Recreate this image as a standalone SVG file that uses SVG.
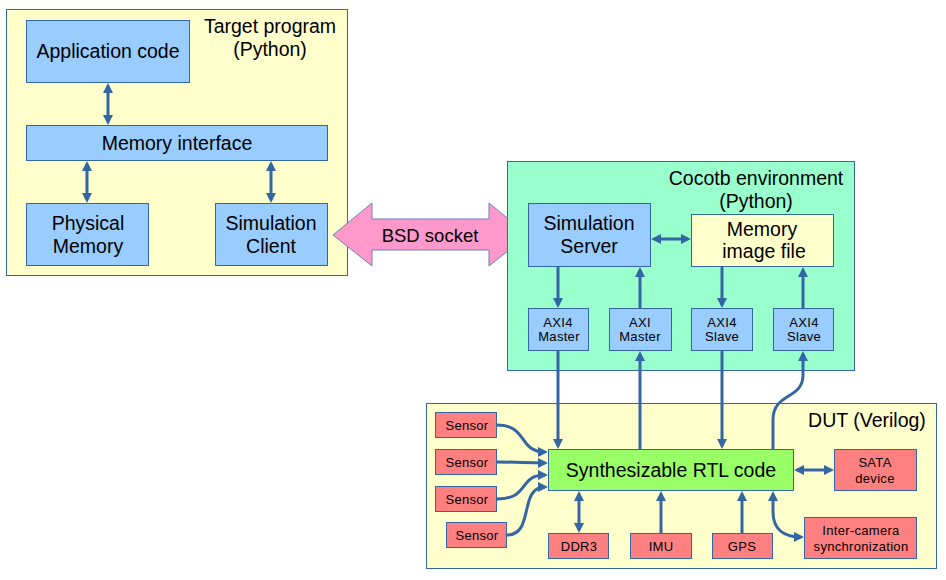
<svg xmlns="http://www.w3.org/2000/svg" width="946" height="580" viewBox="0 0 946 580">
<defs>
<style>
text{font-family:"Liberation Sans",Arial,sans-serif;fill:#000;text-anchor:middle}
.big{font-size:19.5px}
.sm{font-size:13px;letter-spacing:0.3px}
.cont{stroke:#3465a4;stroke-width:1}
.blue{fill:#99ccff;stroke:#3465a4;stroke-width:1}
.red{fill:#ff8080;stroke:#3465a4;stroke-width:1}
.con{fill:none;stroke:#3465a4;stroke-width:3}
</style>
<marker id="ah" viewBox="0 0 10 10" refX="7" refY="5" markerWidth="10" markerHeight="10" markerUnits="userSpaceOnUse" orient="auto-start-reverse"><path d="M0,0 L10,5 L0,10 z" fill="#3465a4"/></marker>
</defs>
<rect width="946" height="580" fill="#fff"/>

<g id="target-program">
<rect class="cont" x="6.5" y="9.5" width="341" height="266" fill="#ffffcc"/>
<text class="big" x="270" y="33">Target program</text>
<text class="big" x="270" y="56">(Python)</text>
</g>
<g id="application-code"><rect class="blue" x="26.5" y="20.5" width="163" height="62"/><text class="big" x="108" y="58">Application code</text></g>
<g id="memory-interface"><rect class="blue" x="26.5" y="125.5" width="301" height="35"/><text class="big" x="177" y="150">Memory interface</text></g>
<g id="physical-memory"><rect class="blue" x="26.5" y="203.5" width="122" height="62"/><text class="big" x="88" y="230">Physical</text><text class="big" x="88" y="253">Memory</text></g>
<g id="simulation-client"><rect class="blue" x="215.5" y="203.5" width="112" height="62"/><text class="big" x="271" y="230">Simulation</text><text class="big" x="271" y="253">Client</text></g>

<g id="bsd-socket">
<polygon points="333,235 372,203 372,219 489,219 489,203 528,235 489,266 489,250 372,250 372,266" fill="#ff99cc" stroke="#6b7fc0" stroke-width="1"/>
<text x="430" y="242" style="font-size:18.5px">BSD socket</text>
</g>

<g id="cocotb-environment">
<rect class="cont" x="507.5" y="161.5" width="347" height="209" fill="#99ffcc"/>
<text class="big" x="756" y="185">Cocotb environment</text>
<text class="big" x="756" y="208">(Python)</text>
</g>
<g id="simulation-server"><rect class="blue" x="528.5" y="203.5" width="122" height="63"/><text class="big" x="589" y="230">Simulation</text><text class="big" x="589" y="253">Server</text></g>
<g id="memory-image-file"><rect x="691.5" y="214.5" width="142" height="52" fill="#ffffcc" stroke="#3465a4"/><text class="big" x="762" y="236">Memory</text><text class="big" x="764" y="258">image file</text></g>
<g id="axi4-master"><rect class="blue" x="528.5" y="308.5" width="60" height="42"/><text class="sm" x="558" y="327">AXI4</text><text class="sm" x="559" y="341">Master</text></g>
<g id="axi-master"><rect class="blue" x="609.5" y="308.5" width="62" height="42"/><text class="sm" x="640" y="327">AXI</text><text class="sm" x="640" y="341">Master</text></g>
<g id="axi4-slave-1"><rect class="blue" x="691.5" y="308.5" width="61" height="42"/><text class="sm" x="722" y="327">AXI4</text><text class="sm" x="722" y="341">Slave</text></g>
<g id="axi4-slave-2"><rect class="blue" x="773.5" y="308.5" width="60" height="42"/><text class="sm" x="804" y="327">AXI4</text><text class="sm" x="804" y="341">Slave</text></g>

<g id="dut">
<rect class="cont" x="426.5" y="403.5" width="510" height="165" fill="#ffffcc"/>
<text class="big" x="867" y="427">DUT (Verilog)</text>
</g>
<g id="rtl-code"><rect x="548.5" y="449.5" width="245" height="41" fill="#99ff66" stroke="#3465a4"/><text class="big" x="671" y="477">Synthesizable RTL code</text></g>
<g id="sensor-1"><rect class="red" x="435.5" y="412.5" width="61" height="25"/><text class="sm" x="467" y="430">Sensor</text></g>
<g id="sensor-2"><rect class="red" x="435.5" y="449.5" width="61" height="25"/><text class="sm" x="467" y="467">Sensor</text></g>
<g id="sensor-3"><rect class="red" x="435.5" y="486.5" width="61" height="25"/><text class="sm" x="467" y="504">Sensor</text></g>
<g id="sensor-4"><rect class="red" x="446.5" y="522.5" width="60" height="25"/><text class="sm" x="477" y="540">Sensor</text></g>
<g id="ddr3"><rect class="red" x="548.5" y="533.5" width="60" height="25"/><text class="sm" x="579" y="551">DDR3</text></g>
<g id="imu"><rect class="red" x="630.5" y="533.5" width="61" height="25"/><text class="sm" x="661" y="551">IMU</text></g>
<g id="gps"><rect class="red" x="712.5" y="533.5" width="60" height="25"/><text class="sm" x="742" y="551">GPS</text></g>
<g id="sata-device"><rect class="red" x="834.5" y="449.5" width="82" height="41"/><text class="sm" x="875" y="467">SATA</text><text class="sm" x="875" y="483">device</text></g>
<g id="inter-camera"><rect class="red" x="804.5" y="517.5" width="112" height="41"/><text class="sm" x="861" y="535">Inter-camera</text><text class="sm" x="861" y="551">synchronization</text></g>

<g id="connectors">
<path class="con" d="M108,86 L108,122" marker-start="url(#ah)" marker-end="url(#ah)"/>
<path class="con" d="M87,164 L87,200" marker-start="url(#ah)" marker-end="url(#ah)"/>
<path class="con" d="M271,164 L271,200" marker-start="url(#ah)" marker-end="url(#ah)"/>
<path class="con" d="M654,239 L688,239" marker-start="url(#ah)" marker-end="url(#ah)"/>
<path class="con" d="M558,267 L558,305" marker-end="url(#ah)"/>
<path class="con" d="M640,308 L640,270" marker-end="url(#ah)"/>
<path class="con" d="M722,267 L722,305" marker-end="url(#ah)"/>
<path class="con" d="M803,308 L803,270" marker-end="url(#ah)"/>
<path class="con" d="M558,351 L558,446" marker-end="url(#ah)"/>
<path class="con" d="M640,449 L640,354" marker-end="url(#ah)"/>
<path class="con" d="M722,351 L722,446" marker-end="url(#ah)"/>
<path class="con" d="M773,449 L773,420 C773,392 803,400 803,375 L803,354" marker-end="url(#ah)"/>
<path class="con" d="M497,425 C528,425 518,452 545,452" marker-end="url(#ah)"/>
<path class="con" d="M497,462 C520,462 525,463 545,463" marker-end="url(#ah)"/>
<path class="con" d="M497,499 C530,499 518,475 545,475" marker-end="url(#ah)"/>
<path class="con" d="M507,535 C535,535 518,487 545,487" marker-end="url(#ah)"/>
<path class="con" d="M579,494 L579,530" marker-start="url(#ah)" marker-end="url(#ah)"/>
<path class="con" d="M661,533 L661,494" marker-end="url(#ah)"/>
<path class="con" d="M742,533 L742,494" marker-end="url(#ah)"/>
<path class="con" d="M797,470 L831,470" marker-start="url(#ah)" marker-end="url(#ah)"/>
<path class="con" d="M773,494 L773,512 C773,530 785,537 801,537" marker-start="url(#ah)" marker-end="url(#ah)"/>
</g>
</svg>
